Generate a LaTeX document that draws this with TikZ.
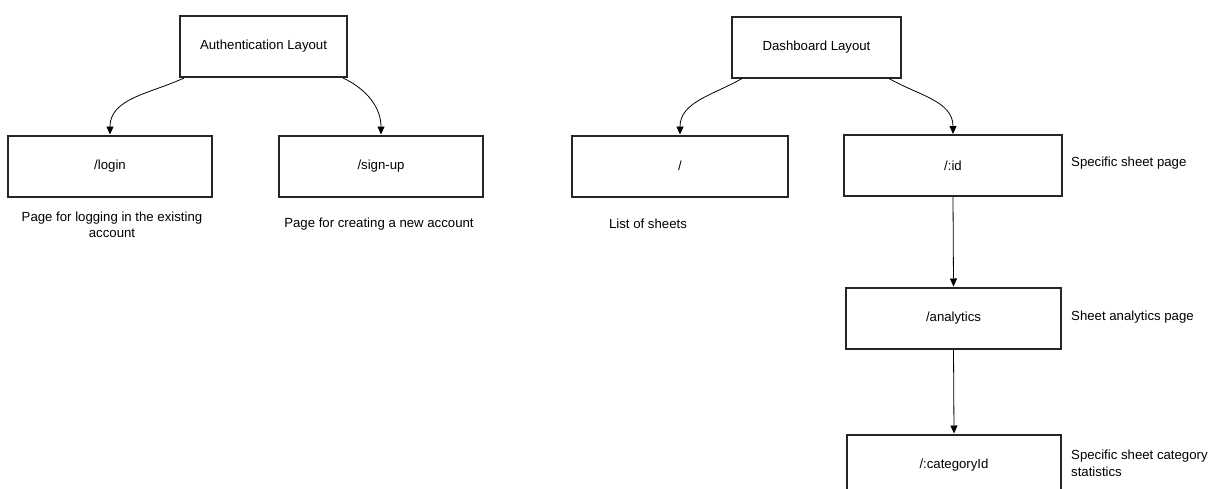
\documentclass[tikz,border=0pt]{standalone}
\usepackage{fontspec}
\setmainfont{Liberation Sans}
\usetikzlibrary{arrows.meta}
\begin{document}
\begin{tikzpicture}[x=1pt,y=-1pt,
  box/.style={draw=black!85, line width=2pt, fill=white, minimum height=61pt, inner sep=0pt, font=\fontsize{13.2}{16}\selectfont},
  note/.style={font=\fontsize{13.2}{16.5}\selectfont, inner sep=0pt, align=center},
  link/.style={draw=black, line width=0.8pt, -{Triangle[length=8pt,width=7pt]}}
]
\useasboundingbox (0,0) rectangle (1212,488);
\node[box, minimum width=167pt] (auth) at (263.5,46.5) {Authentication Layout};
\node[box, minimum width=204pt] (login) at (110,166) {/login};
\node[box, minimum width=204pt] (signup) at (381,166) {/sign-up};
\node[box, minimum width=169pt] (dash) at (816.5,47) {Dashboard Layout};
\node[box, minimum width=216pt] (root) at (680,166) {/};
\node[box, minimum width=218pt] (id) at (953,165.5) {/:id};
\node[box, minimum width=215pt] (analytics) at (953.5,318) {/analytics};
\node[box, minimum width=214pt] (cat) at (954,465) {/:categoryId};

\node[note] (loginnote) at (112,225) {Page for logging in the existing\\account};
\node[note] (signupnote) at (379,224) {Page for creating a new account};
\node[note] (rootnote) at (648,224) {List of sheets};
\node[note, anchor=west] (idnote) at (1071,163) {Specific sheet page};
\node[note, anchor=west] (anote) at (1071,317) {Sheet analytics page};
\node[note, anchor=west, align=left] (catnote) at (1071,463.5) {Specific sheet category\\statistics};

\draw[link] ([xshift=5pt]auth.south west) to[out=205,in=90] (login.north);
\draw[link] ([xshift=-5pt]auth.south east) to[out=-25,in=90] (signup.north);
\draw[link] ([xshift=11pt]dash.south west) to[out=210,in=90] (root.north);
\draw[link] ([xshift=-13pt]dash.south east) to[out=-30,in=90] (id.north);
\draw[link] (id.south) -- (analytics.north);
\draw[link] (analytics.south) -- (cat.north);
\end{tikzpicture}
\end{document}
